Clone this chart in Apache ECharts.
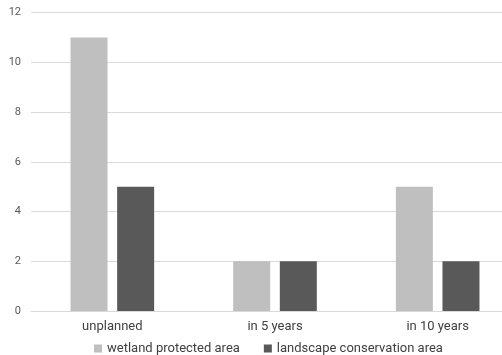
<!DOCTYPE html>
<html>
<head>
<meta charset="utf-8">
<script src="https://cdn.jsdelivr.net/npm/echarts@6/dist/echarts.min.js"></script>
<style>
  html, body { margin: 0; padding: 0; background: #fff; overflow: hidden; }
  #wrap { width: 502px; height: 355px; overflow: hidden; }
  #chart { width: 520px; height: 355px; }
</style>
</head>
<body>
<div id="wrap"><div id="chart"></div></div>
<script>
// Planning horizon categories and area counts
var categories = ['unplanned', 'in 5 years', 'in 10 years'];
var wetlandValues = [11, 2, 5];
var landscapeValues = [5, 2, 2];
var seriesNames = ['wetland protected area', 'landscape conservation area'];

var chart = echarts.init(document.getElementById('chart'), null, { renderer: 'canvas' });

var font = 'Roboto, "Open Sans", sans-serif';

chart.setOption({
  animation: false,
  backgroundColor: '#ffffff',
  textStyle: { fontFamily: font },
  color: ['#BFBFBF', '#595959'],
  // the plot runs past the visible right edge
  grid: { left: 31, top: 12.5, right: 1, bottom: 44, containLabel: false },
  legend: {
    left: 89,
    top: 337,
    icon: 'rect',
    itemWidth: 8,
    itemHeight: 8,
    itemGap: 24,
    textStyle: { fontFamily: font, fontSize: 13, color: '#404040' },
    data: seriesNames
  },
  xAxis: {
    type: 'category',
    data: categories,
    axisLine: { lineStyle: { color: '#D9D9D9', width: 1 } },
    axisTick: { show: false },
    axisLabel: { fontFamily: font, fontSize: 13, color: '#404040', margin: 9 }
  },
  yAxis: {
    type: 'value',
    min: 0,
    max: 12,
    interval: 2,
    axisLine: { show: false },
    axisTick: { show: false },
    splitLine: { lineStyle: { color: '#D9D9D9', width: 1 } },
    axisLabel: { fontFamily: font, fontSize: 11, color: '#595959', margin: 10 }
  },
  series: [
    {
      name: seriesNames[0],
      type: 'bar',
      data: wetlandValues,
      barWidth: 37,
      barGap: '26%'
    },
    {
      name: seriesNames[1],
      type: 'bar',
      data: landscapeValues,
      barWidth: 37,
      barGap: '26%'
    }
  ]
});
</script>
</body>
</html>
